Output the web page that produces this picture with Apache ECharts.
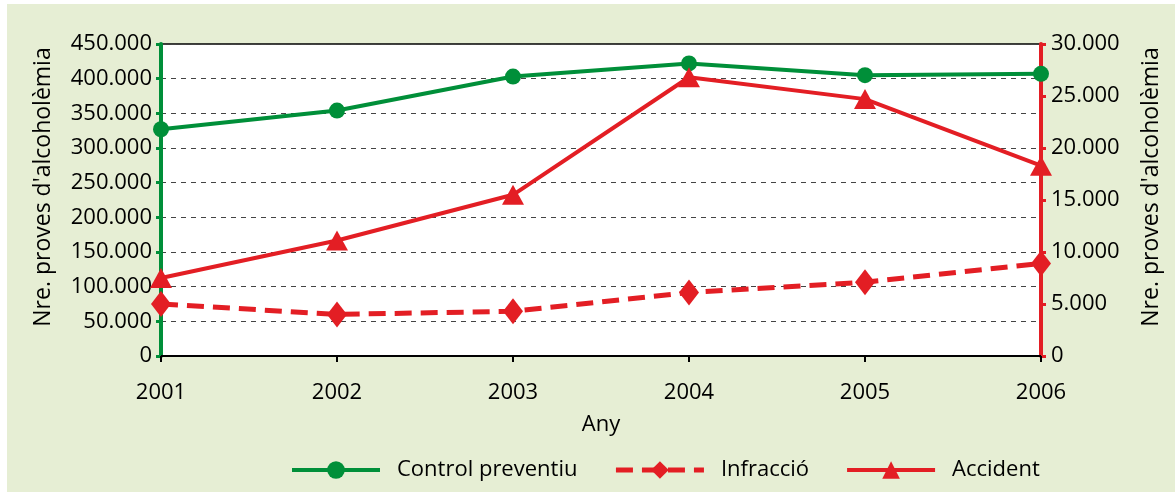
<!DOCTYPE html>
<html>
<head>
<meta charset="utf-8">
<script src="https://cdn.jsdelivr.net/npm/echarts@6/dist/echarts.min.js"></script>
<style>
  html, body { margin: 0; padding: 0; background: #ffffff; }
  #bg { position: absolute; left: 7px; top: 4px; width: 1168px; height: 488px; background: #E6EED4; }
  #chart { position: absolute; left: 0; top: 0; width: 1175px; height: 492px; }
</style>
</head>
<body>
<div id="bg"></div>
<div id="chart"></div>
<script>
const years = ['2001', '2002', '2003', '2004', '2005', '2006'];
const controlPreventiu = [327000, 354000, 403000, 422000, 405000, 407000];
const infraccio = [5000, 4000, 4300, 6100, 7100, 8900];
const accident = [7500, 11100, 15500, 26800, 24700, 18300];
const axisTitle = "Nre. proves d'alcoholèmia";
const xTitle = 'Any';
const seriesNames = ['Control preventiu', 'Infracció', 'Accident'];

const GREEN = '#008F39';
const RED = '#E31E24';
const FONT = 'Open Sans';

function fmt(v) {
  return String(v).replace(/\B(?=(\d{3})+(?!\d))/g, '.');
}

const chart = echarts.init(document.getElementById('chart'), null, { renderer: 'canvas' });
chart.setOption({
  backgroundColor: 'transparent',
  animation: false,
  textStyle: { fontFamily: FONT },
  grid: {
    left: 161, right: 134, top: 44, bottom: 136,
    show: true, backgroundColor: '#ffffff', borderColor: '#000000', borderWidth: 1.5
  },
  legend: {
    left: 285, top: 454,
    itemWidth: 88, itemHeight: 22, itemGap: 36,
    textStyle: { fontFamily: FONT, fontSize: 22, color: '#000', padding: [0, 0, 0, 12] },
    data: [
      { name: seriesNames[0], lineStyle: { width: 4 } },
      { name: seriesNames[1], lineStyle: { width: 5 } },
      { name: seriesNames[2], lineStyle: { width: 4 } }
    ]
  },
  xAxis: {
    type: 'category',
    data: years,
    boundaryGap: false,
    name: xTitle,
    nameLocation: 'middle',
    nameGap: 58,
    nameTextStyle: { fontFamily: FONT, fontSize: 22, color: '#000' },
    axisLine: { lineStyle: { color: '#000', width: 2 } },
    axisTick: { show: true, length: 6, lineStyle: { color: '#000', width: 2 } },
    axisLabel: { fontFamily: FONT, fontSize: 22, color: '#000', margin: 26 },
    splitLine: { show: false }
  },
  yAxis: [
    {
      type: 'value',
      min: 0, max: 450000, interval: 50000,
      position: 'left',
      name: axisTitle,
      nameLocation: 'middle',
      nameRotate: 90,
      nameGap: 106,
      nameTextStyle: { fontFamily: FONT, fontSize: 23, color: '#000', padding: [0, 0, 0, 26] },
      axisLine: { show: true, lineStyle: { color: GREEN, width: 4 } },
      axisTick: { show: true, length: 5, lineStyle: { color: GREEN, width: 3 } },
      axisLabel: { fontFamily: FONT, fontSize: 22, color: '#000', margin: 9, formatter: fmt },
      splitLine: { show: true, lineStyle: { color: '#444', width: 1, type: [5, 5] } }
    },
    {
      type: 'value',
      min: 0, max: 30000, interval: 5000,
      position: 'right',
      name: axisTitle,
      nameLocation: 'middle',
      nameRotate: 90,
      nameGap: 99,
      nameTextStyle: { fontFamily: FONT, fontSize: 23, color: '#000', padding: [0, 0, 0, 26] },
      axisLine: { show: true, lineStyle: { color: RED, width: 4 } },
      axisTick: { show: true, length: 5, lineStyle: { color: RED, width: 3 } },
      axisLabel: { fontFamily: FONT, fontSize: 22, color: '#000', margin: 10, formatter: fmt },
      splitLine: { show: false }
    }
  ],
  series: [
    {
      name: seriesNames[0], type: 'line', yAxisIndex: 0, data: controlPreventiu,
      symbol: 'circle', symbolSize: 16,
      itemStyle: { color: GREEN },
      lineStyle: { color: GREEN, width: 4 }
    },
    {
      name: seriesNames[1], type: 'line', yAxisIndex: 1, data: infraccio,
      symbol: 'diamond', symbolSize: [20, 26],
      itemStyle: { color: RED },
      lineStyle: { color: RED, width: 5, type: [17, 9] }
    },
    {
      name: seriesNames[2], type: 'line', yAxisIndex: 1, data: accident,
      symbol: 'triangle', symbolSize: [22, 20],
      itemStyle: { color: RED },
      lineStyle: { color: RED, width: 4 }
    }
  ]
});
</script>
</body>
</html>
